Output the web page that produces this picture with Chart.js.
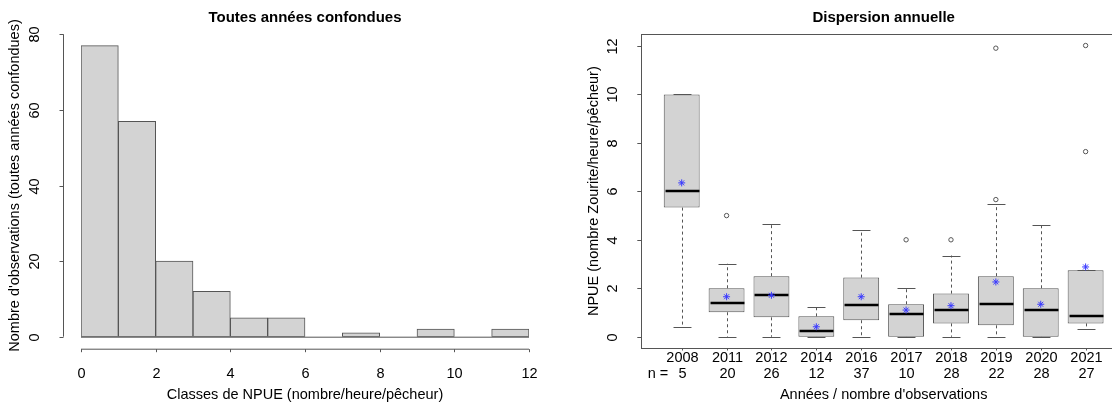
<!DOCTYPE html>
<html>
<head>
<meta charset="utf-8">
<script src="https://cdn.jsdelivr.net/npm/chart.js@4.4.0/dist/chart.umd.min.js"></script>
<style>
    html, body { margin: 0; padding: 0; background: #fff; overflow: hidden; width: 1112px; height: 403px; }
    .panel { position: absolute; top: 0; }
    #leftPanel { left: 0; }
    #rightPanel { left: 556px; }
</style>
</head>
<body>
<div class="panel" id="leftPanel"><canvas id="hist" width="556" height="403"></canvas></div>
<div class="panel" id="rightPanel"><canvas id="box" width="584" height="403"></canvas></div>
<script>
// histogram: classes of 1 unit from 0 to 12
const histBinStarts = [0, 1, 2, 3, 4, 5, 6, 7, 8, 9, 10, 11]
const histCounts = [77, 57, 20, 12, 5, 5, 0, 1, 0, 2, 0, 2]
const histXTicks = [0, 2, 4, 6, 8, 10, 12]
const histYTicks = [0, 20, 40, 60, 80]

// boxplot by year
const years = ['2008', '2011', '2012', '2014', '2016', '2017', '2018', '2019', '2020', '2021']
const nObs = [5, 20, 26, 12, 37, 10, 28, 22, 28, 27]
const lowWhisker = [0.41, 0, 0, 0, 0, 0, 0, 0, 0, 0.33]
const q1 = [5.33, 1.01, 0.8, 0, 0.68, 0, 0.55, 0.47, 0, 0.55]
const medians = [6, 1.39, 1.73, 0.24, 1.29, 0.94, 1.12, 1.36, 1.09, 0.87]
const q3 = [10, 2, 2.5, 0.84, 2.44, 1.34, 1.78, 2.5, 2, 2.74]
const highWhisker = [10, 3.01, 4.67, 1.21, 4.4, 2, 3.35, 5.47, 4.61, 2.74]
const means = [6.35, 1.65, 1.71, 0.41, 1.65, 1.1, 1.28, 2.26, 1.34, 2.88]
const outliers = [[], [5], [], [], [], [4], [4], [5.66, 11.91], [], [7.64, 12.02]]
const boxYTicks = [0, 2, 4, 6, 8, 10, 12]

const FONT = '"Liberation Sans", Arial, sans-serif'
const AXIS_COL = '#555'

function line(ctx, x1, y1, x2, y2) {
    ctx.beginPath()
    ctx.moveTo(x1, y1)
    ctx.lineTo(x2, y2)
    ctx.stroke()
}

function vtext(ctx, s, x, y) {
    ctx.save()
    ctx.translate(x, y)
    ctx.rotate(-Math.PI / 2)
    ctx.textAlign = 'center'
    ctx.textBaseline = 'middle'
    ctx.fillText(s, 0, 0)
    ctx.restore()
}

const histAxes = {
    id: 'histAxes',
    afterDraw(chart) {
        const ctx = chart.ctx
        const xs = chart.scales.x
        const ys = chart.scales.y
        const area = chart.chartArea
        ctx.save()
        ctx.strokeStyle = AXIS_COL
        ctx.lineWidth = 1
        // baseline under the bars
        line(ctx, xs.getPixelForValue(0), ys.getPixelForValue(0) + 0.5, xs.getPixelForValue(12), ys.getPixelForValue(0) + 0.5)

        // y axis
        const yAxisX = area.left - 17.5
        line(ctx, yAxisX, ys.getPixelForValue(histYTicks[0]), yAxisX, ys.getPixelForValue(histYTicks[histYTicks.length - 1]))
        ctx.fillStyle = '#000'
        ctx.font = '14.5px ' + FONT
        histYTicks.forEach(v => {
            const y = Math.round(ys.getPixelForValue(v)) + 0.5
            line(ctx, yAxisX - 4, y, yAxisX, y)
            vtext(ctx, String(v), 34.5, y)
        })

        // x axis
        const xAxisY = area.bottom + 12.5
        line(ctx, xs.getPixelForValue(histXTicks[0]), xAxisY, xs.getPixelForValue(histXTicks[histXTicks.length - 1]), xAxisY)
        ctx.textAlign = 'center'
        ctx.textBaseline = 'middle'
        histXTicks.forEach(v => {
            const x = Math.round(xs.getPixelForValue(v)) + 0.5
            line(ctx, x, xAxisY, x, xAxisY + 3)
            ctx.fillText(String(v), x, 373.5)
        })

        const cx = (area.left + area.right) / 2
        ctx.fillText('Classes de NPUE (nombre/heure/pêcheur)', cx, 395)
        vtext(ctx, "Nombre d'observations (toutes années confondues)", 15, (area.top + area.bottom) / 2)
        ctx.font = 'bold 15px ' + FONT
        ctx.fillText('Toutes années confondues', cx, 17.5)
        ctx.restore()
    }
}

new Chart(document.getElementById('hist'), {
    type: 'bar',
    data: {
        datasets: [{
            data: histBinStarts.map((b, i) => ({ x: b + 0.5, y: histCounts[i] })),
            backgroundColor: '#d3d3d3',
            borderColor: AXIS_COL,
            borderWidth: 1,
            borderSkipped: false,
            barPercentage: 1,
            categoryPercentage: 1
        }]
    },
    options: {
        responsive: false,
        animation: false,
        devicePixelRatio: 1,
        layout: { padding: { left: 81, right: 27, top: 34.3, bottom: 66.3 } },
        plugins: { legend: { display: false }, tooltip: { enabled: false } },
        scales: {
            x: { type: 'linear', min: 0, max: 12, offset: false, display: false },
            y: { type: 'linear', min: 0, max: 80, display: false }
        }
    },
    plugins: [histAxes]
})

// whiskers, staples and medians, drawn just after the boxes
const boxParts = {
    id: 'boxParts',
    afterDatasetDraw(chart, args) {
        if (args.index !== 2) return
        const ctx = chart.ctx
        const xs = chart.scales.x
        const ys = chart.scales.y
        const boxW = args.meta.data[0].width
        ctx.save()
        years.forEach((yr, i) => {
            const x = Math.round(xs.getPixelForValue(i + 1)) + 0.5
            ctx.strokeStyle = AXIS_COL
            ctx.lineWidth = 1
            ctx.setLineDash([3, 3])
            line(ctx, x, ys.getPixelForValue(q3[i]), x, ys.getPixelForValue(highWhisker[i]))
            line(ctx, x, ys.getPixelForValue(q1[i]), x, ys.getPixelForValue(lowWhisker[i]))
            ctx.setLineDash([])
            const hw = boxW / 4
            const yHi = Math.round(ys.getPixelForValue(highWhisker[i])) + 0.5
            const yLo = Math.round(ys.getPixelForValue(lowWhisker[i])) + 0.5
            line(ctx, x - hw, yHi, x + hw, yHi)
            line(ctx, x - hw, yLo, x + hw, yLo)
            ctx.strokeStyle = '#000'
            ctx.lineWidth = 2.6
            const ym = Math.round(ys.getPixelForValue(medians[i]))
            line(ctx, x - boxW / 2 + 1, ym, x + boxW / 2 - 1, ym)
        })
        ctx.restore()
    }
}

const boxAxes = {
    id: 'boxAxes',
    afterDraw(chart) {
        const ctx = chart.ctx
        const xs = chart.scales.x
        const ys = chart.scales.y
        const area = chart.chartArea
        ctx.save()
        ctx.strokeStyle = AXIS_COL
        ctx.lineWidth = 1
        ctx.strokeRect(Math.round(area.left) + 0.5, Math.round(area.top) + 0.5, area.right - area.left, Math.round(area.bottom - area.top))

        ctx.fillStyle = '#000'
        ctx.font = '14.5px ' + FONT
        boxYTicks.forEach(v => {
            const y = Math.round(ys.getPixelForValue(v)) + 0.5
            line(ctx, area.left - 4, y, area.left, y)
            vtext(ctx, String(v), area.left - 28, y)
        })

        ctx.textAlign = 'center'
        ctx.textBaseline = 'middle'
        const bottom = Math.round(area.bottom) + 0.5
        years.forEach((yr, i) => {
            const x = Math.round(xs.getPixelForValue(i + 1)) + 0.5
            line(ctx, x, bottom, x, bottom + 2)
            ctx.fillText(yr, x, 357.5)
            ctx.fillText(String(nObs[i]), x, 373.5)
        })
        ctx.textAlign = 'left'
        ctx.fillText('n = ', xs.getPixelForValue(1) - 34, 373.5)

        const cx = (area.left + area.right) / 2
        ctx.textAlign = 'center'
        ctx.fillText("Années / nombre d'observations", cx, 395)
        vtext(ctx, 'NPUE (nombre Zourite/heure/pêcheur)', area.left - 47.5, (area.top + area.bottom) / 2)
        ctx.font = 'bold 15px ' + FONT
        ctx.fillText('Dispersion annuelle', cx, 17.5)
        ctx.restore()
    }
}

const outlierPoints = []
outliers.forEach((list, i) => list.forEach(v => outlierPoints.push({ x: i + 1, y: v })))

new Chart(document.getElementById('box'), {
    type: 'bar',
    data: {
        datasets: [{
            type: 'scatter',
            data: means.map((m, i) => ({ x: i + 1, y: m })),
            pointStyle: 'star',
            radius: 3.5,
            borderColor: '#3a3aff',
            borderWidth: 1,
            backgroundColor: '#3a3aff'
        }, {
            type: 'scatter',
            data: outlierPoints,
            pointStyle: 'circle',
            radius: 2.2,
            borderColor: '#555',
            borderWidth: 1,
            backgroundColor: 'rgba(0,0,0,0)'
        }, {
            type: 'bar',
            data: years.map((yr, i) => ({ x: i + 1, y: [q1[i], q3[i]] })),
            backgroundColor: '#d3d3d3',
            borderColor: AXIS_COL,
            borderWidth: 1,
            borderSkipped: false,
            barPercentage: 1,
            categoryPercentage: 0.8
        }]
    },
    options: {
        responsive: false,
        animation: false,
        devicePixelRatio: 1,
        layout: { padding: { left: 85.3, right: 14, top: 34.3, bottom: 55 } },
        plugins: { legend: { display: false }, tooltip: { enabled: false } },
        scales: {
            x: { type: 'linear', min: 0.1, max: 10.9, offset: false, display: false },
            y: { type: 'linear', min: -0.466, max: 12.483, display: false }
        }
    },
    plugins: [boxParts, boxAxes]
})
</script>
</body>
</html>
